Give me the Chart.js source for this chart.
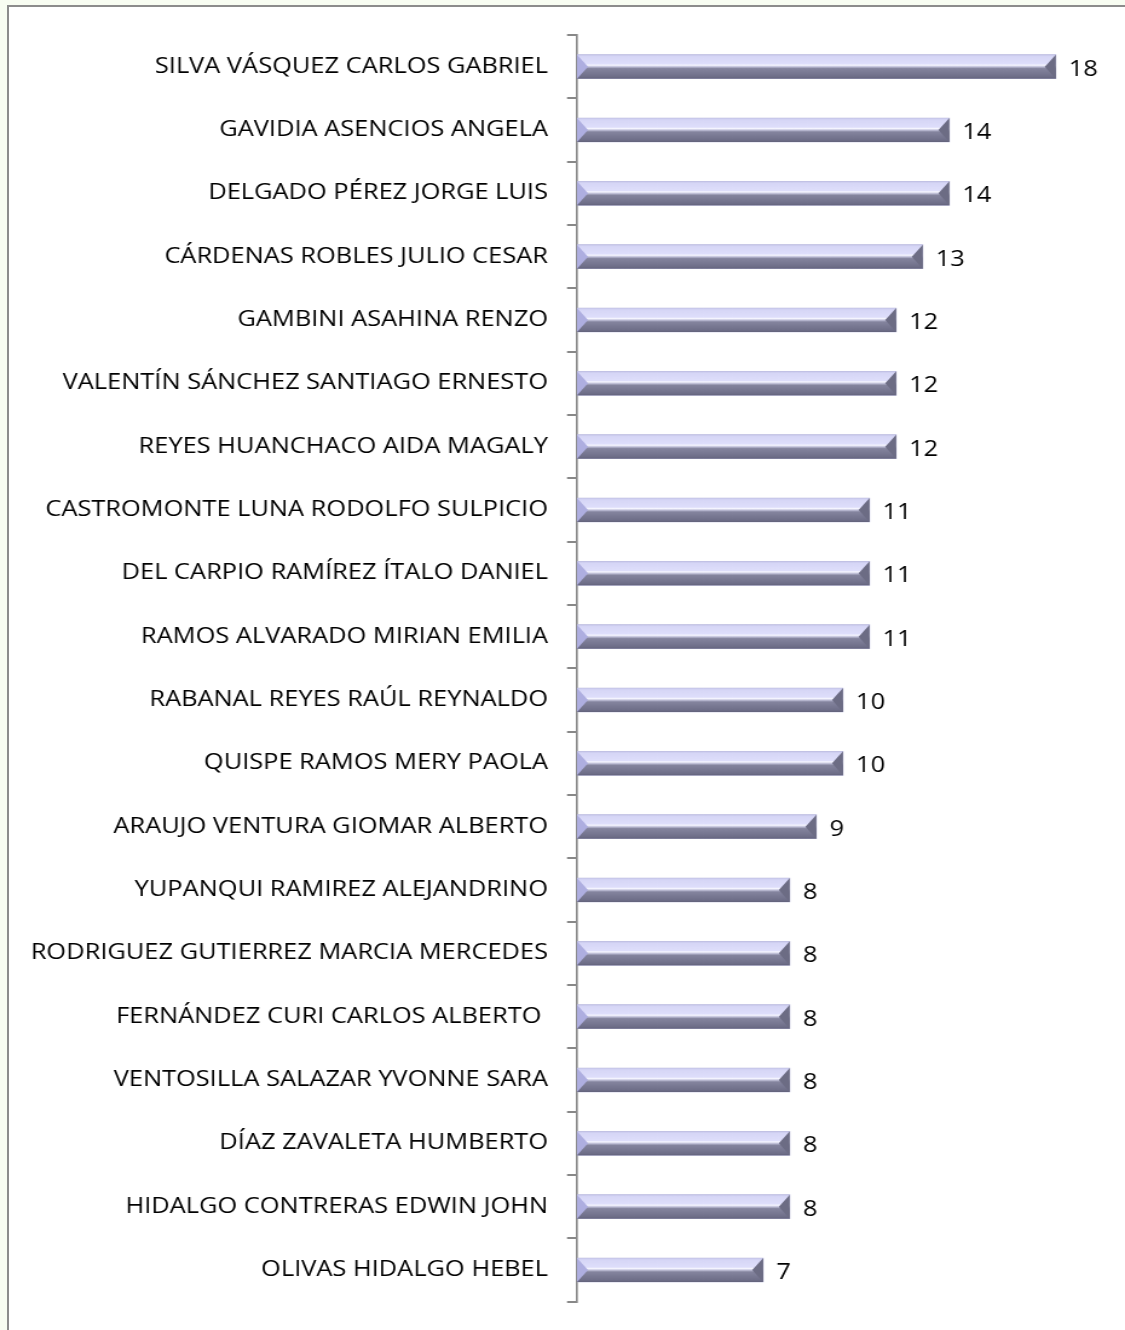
<!DOCTYPE html>
<html>
<head>
<meta charset="utf-8">
<script src="https://cdn.jsdelivr.net/npm/chart.js@4"></script>
<style>
  body { margin: 0; background: #f8fdf2; overflow: hidden; }
  #marco { position: absolute; left: 7px; top: 5px; width: 1140px; height: 1350px; border: 2px solid #8c8c8c; background: #fff; }
  /* el original tiene el texto ensanchado: se dibuja angosto y se estira en x */
  #wrap { position: absolute; left: 0; top: 0; width: 930px; height: 1330px; transform: scaleX(1.2097); transform-origin: 0 0; }
</style>
</head>
<body>
<div id="marco"></div>
<div id="wrap"><canvas id="grafico"></canvas></div>
<script>
var nombres = [
  'SILVA VÁSQUEZ CARLOS GABRIEL',
  'GAVIDIA ASENCIOS ANGELA',
  'DELGADO PÉREZ JORGE LUIS',
  'CÁRDENAS ROBLES JULIO CESAR',
  'GAMBINI ASAHINA RENZO',
  'VALENTÍN SÁNCHEZ SANTIAGO ERNESTO',
  'REYES HUANCHACO AIDA MAGALY',
  'CASTROMONTE LUNA RODOLFO SULPICIO',
  'DEL CARPIO RAMÍREZ ÍTALO DANIEL',
  'RAMOS ALVARADO MIRIAN EMILIA',
  'RABANAL REYES RAÚL REYNALDO',
  'QUISPE RAMOS MERY PAOLA',
  'ARAUJO VENTURA GIOMAR ALBERTO',
  'YUPANQUI RAMIREZ ALEJANDRINO',
  'RODRIGUEZ GUTIERREZ MARCIA MERCEDES',
  'FERNÁNDEZ CURI CARLOS ALBERTO ',
  'VENTOSILLA SALAZAR YVONNE SARA',
  'DÍAZ ZAVALETA HUMBERTO',
  'HIDALGO CONTRERAS EDWIN JOHN',
  'OLIVAS HIDALGO HEBEL'
];
var cantidades = [18, 14, 14, 13, 12, 12, 12, 11, 11, 11, 10, 10, 9, 8, 8, 8, 8, 8, 8, 7];

var fuente = '"Open Sans", Lato, sans-serif';
var sx = 1.2097; // mismo factor que el scaleX del css

// barras con bisel (relleno degradado + extremos) y etiqueta de valor
var biselPlugin = {
  id: 'bisel',
  afterDatasetsDraw: function(chart) {
    var ctx = chart.ctx;
    var meta = chart.getDatasetMeta(0);
    var b = 11 / sx;
    meta.data.forEach(function(bar, i) {
      var x0 = bar.base, x1 = bar.x;
      var top = bar.y - bar.height / 2, bot = bar.y + bar.height / 2, mid = bar.y;
      var g = ctx.createLinearGradient(0, top, 0, bot);
      g.addColorStop(0, '#c4c4e8');
      g.addColorStop(0.08, '#d6d6f6');
      g.addColorStop(0.38, '#dedefb');
      g.addColorStop(0.44, '#f6f6ff');
      g.addColorStop(0.5, '#c4c4dc');
      g.addColorStop(0.58, '#84849e');
      g.addColorStop(0.92, '#6e6e88');
      g.addColorStop(1, '#62627a');
      ctx.save();
      ctx.fillStyle = g;
      ctx.fillRect(x0, top, x1 - x0, bot - top);
      // extremo izquierdo
      ctx.fillStyle = '#aeaee0';
      ctx.beginPath();
      ctx.moveTo(x0, top); ctx.lineTo(x0 + b, mid); ctx.lineTo(x0, bot); ctx.closePath();
      ctx.fill();
      // extremo derecho
      ctx.fillStyle = '#6c6c84';
      ctx.beginPath();
      ctx.moveTo(x1, top); ctx.lineTo(x1 - b, mid); ctx.lineTo(x1, bot); ctx.closePath();
      ctx.fill();
      // etiqueta
      ctx.fillStyle = '#000';
      ctx.font = '21px ' + fuente;
      ctx.textAlign = 'left';
      ctx.textBaseline = 'middle';
      ctx.fillText(cantidades[i], x1 + 13 / sx, mid + 3);
      ctx.restore();
    });
  }
};

var ctx = document.getElementById('grafico').getContext('2d');
var grafico = new Chart(ctx, {
  type: 'bar',
  data: {
    labels: nombres,
    datasets: [{
      data: cantidades,
      backgroundColor: '#b8b8dc',
      barThickness: 24
    }]
  },
  options: {
    indexAxis: 'y',
    responsive: true,
    maintainAspectRatio: false,
    animation: false,
    layout: { padding: { top: 35, bottom: 25, left: 0, right: 16 / sx } },
    plugins: { legend: { display: false }, tooltip: { enabled: false } },
    scales: {
      x: { display: false, min: 0, max: 20 },
      y: {
        afterFit: function(scale) { scale.width = 577 / sx; },
        grid: { offset: true, drawOnChartArea: false, drawTicks: true, tickLength: 10 / sx, color: '#888888', lineWidth: 2 },
        border: { display: true, color: '#888888', width: 2 / sx },
        ticks: { color: '#000', padding: 19 / sx, font: { family: fuente, size: 21 } }
      }
    }
  },
  plugins: [biselPlugin]
});
</script>
</body>
</html>
